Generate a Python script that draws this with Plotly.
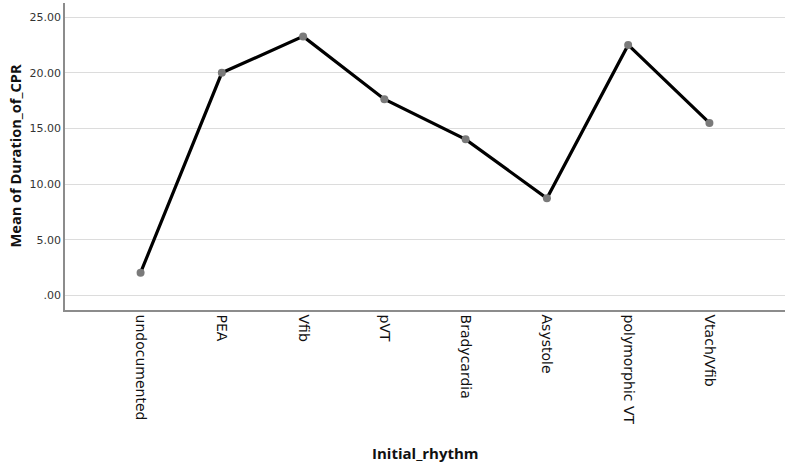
import plotly.graph_objects as go

categories = ["undocumented", "PEA", "Vfib", "pVT", "Bradycardia", "Asystole", "polymorphic VT", "Vtach/Vfib"]
mean_duration = [2.04, 20.0, 23.27, 17.63, 14.02, 8.72, 22.5, 15.5]
y_ticks = [0, 5, 10, 15, 20, 25]
y_tick_labels = [".00", "5.00", "10.00", "15.00", "20.00", "25.00"]

fig = go.Figure()
fig.add_trace(go.Scatter(
    x=list(range(len(categories))), y=mean_duration,
    mode="lines+markers",
    line=dict(color="#000000", width=3.2),
    marker=dict(color="#7a7a7a", size=8),
    showlegend=False,
))

fig.update_layout(
    width=790, height=464,
    margin=dict(l=65, r=5, t=3, b=154),
    paper_bgcolor="white", plot_bgcolor="white",
    font=dict(family="DejaVu Sans", color="#222"),
    xaxis=dict(
        tickmode="array", tickvals=list(range(len(categories))), ticktext=categories,
        tickangle=90, range=[-0.93, 7.93], automargin=False,
        showgrid=False, zeroline=False,
        showline=True, linecolor="#8c8c8c", linewidth=1.5,
        ticks="", tickfont=dict(size=14, color="#111"),
    ),
    yaxis=dict(
        tickmode="array", tickvals=y_ticks, ticktext=y_tick_labels,
        range=[-1.31, 26.27], automargin=False,
        showgrid=True, gridcolor="#dcdcdc", gridwidth=1,
        zeroline=False,
        showline=True, linecolor="#8c8c8c", linewidth=1.5,
        ticks="", tickfont=dict(size=11, color="#333"),
    ),
    annotations=[
        dict(text="<b>Initial_rhythm</b>", xref="paper", yref="paper",
             x=0.5, y=-(453 - 310) / 307, xanchor="center", yanchor="middle",
             showarrow=False, font=dict(family="Open Sans", size=15, color="#111")),
        dict(text="<b>Mean of Duration_of_CPR</b>", xref="paper", yref="paper",
             x=-(65 - 14) / 720, y=0.5, xanchor="center", yanchor="middle", textangle=-90,
             showarrow=False, font=dict(family="Open Sans", size=14.6, color="#111")),
    ],
)

fig.write_html("out.html", config={"displayModeBar": False},
               post_script="document.body.style.margin='0';")
